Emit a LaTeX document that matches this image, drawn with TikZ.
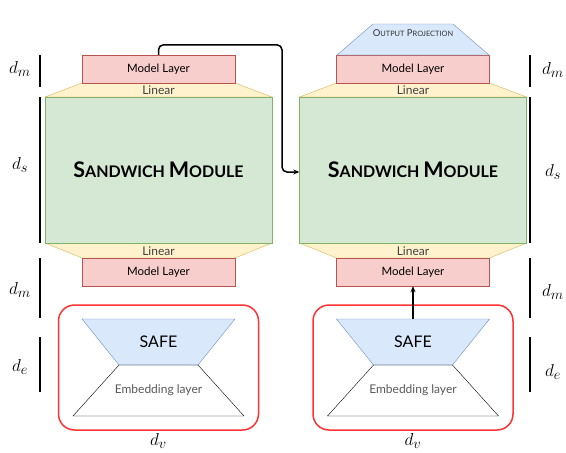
\documentclass[tikz,border=0pt]{standalone}
\usepackage{fontspec}
\setmainfont{Lato}
\usetikzlibrary{arrows.meta}
\definecolor{pinkF}{HTML}{F8CECC}\definecolor{pinkD}{HTML}{B85450}
\definecolor{yelF}{HTML}{FFF2CC}\definecolor{yelD}{HTML}{D6B656}
\definecolor{grnF}{HTML}{D5E8D4}\definecolor{grnD}{HTML}{82B366}
\definecolor{bluF}{HTML}{DAE8FC}\definecolor{bluD}{HTML}{6C8EBF}
\definecolor{redB}{HTML}{FF3333}
\newcommand{\sw}{{\bfseries\fontsize{21.5}{22}\selectfont S\fontsize{16}{16}\selectfont ANDWICH \fontsize{21.5}{22}\selectfont M\fontsize{16}{16}\selectfont ODULE}}
\begin{document}
\begin{tikzpicture}[x=1pt,y=-1pt,
  model/.style={draw=pinkD,fill=pinkF,minimum width=153pt,minimum height=28pt,inner sep=0pt,font=\fontsize{11.5}{13}\selectfont},
  sand/.style={draw=grnD,fill=grnF,minimum width=227pt,minimum height=146pt,inner sep=0pt},
  lin/.style={draw=yelD,fill=yelF},
  lintext/.style={font=\fontsize{12}{13}\selectfont,text=black!75,inner sep=0pt},
  blu/.style={draw=bluD,fill=bluF},
  bar/.style={line width=1.3pt},
  dim/.style={font=\fontsize{19}{21}\selectfont},
  flow/.style={line width=1.5pt,-{Stealth[length=6pt,width=5pt]},rounded corners=5pt},
  redbox/.style={draw=redB,line width=1.5pt,rounded corners=16pt,minimum width=200pt,minimum height=125pt}]
\useasboundingbox (0,0) rectangle (566,453);
\foreach \c/\n in {158.5/L,413/R}{
  % linear trapezoids
  \path[lin] (\c-76.5,83) -- (\c+76.5,83) -- (\c+113.5,97) -- (\c-113.5,97) -- cycle;
  \node[lintext] at (\c,90.5) {Linear};
  \path[lin] (\c-113.5,243) -- (\c+113.5,243) -- (\c+76.5,258) -- (\c-76.5,258) -- cycle;
  \node[lintext] at (\c,251.5) {Linear};
  \node[model] (mt\n) at (\c,69) {Model Layer};
  \node[model] (mb\n) at (\c,272) {Model Layer};
  \node[sand] (s\n) at (\c,170) {\sw};
  \node[redbox] (r\n) at (\c,367.5) {};
  \path[blu] (\c-76.5,319) -- (\c+76.5,319) -- (\c+39.5,365) -- (\c-39.5,365) -- cycle;
  \node[font=\fontsize{16}{17}\selectfont] (safe\n) at (\c,342) {SAFE};
  \coordinate (st\n) at (\c,319);
  \draw[black] (\c-39.5,365) -- (\c+39.5,365) -- (\c+85.5,416) -- (\c-85.5,416) -- cycle;
  \node[font=\fontsize{12}{13}\selectfont,text=black!65] at (\c,390) {Embedding layer};
  \node[dim] at (\c,441) {$d_v$};
}
\path[blu] (373,24) -- (453,24) -- (489,55) -- (337,55) -- cycle;
\node[font=\fontsize{9.5}{11}\selectfont,text=black!80] at (413,33) {O{\fontsize{7.4}{9}\selectfont UTPUT} P{\fontsize{7.4}{9}\selectfont ROJECTION}};
% dimension bars
\foreach \x in {40,530}{
  \draw[bar] (\x,55) -- (\x,87);
  \draw[bar] (\x,97) -- (\x,243);
  \draw[bar] (\x,258) -- (\x,318);
  \draw[bar] (\x,337) -- (\x,392);
}
\node[dim] at (20,69) {$d_m$};
\node[dim] at (20,165) {$d_s$};
\node[dim] at (20,290) {$d_m$};
\node[dim] at (20,367) {$d_e$};
\node[dim] at (553,70) {$d_m$};
\node[dim] at (553,172) {$d_s$};
\node[dim] at (553,292) {$d_m$};
\node[dim] at (553,372) {$d_e$};
% connectors
\draw[flow] (mtL.north) -- ++(0,-10) -| (282,172) -- (sR.west |- 0,172);
\draw[flow] (stR) -- (mbR.south);
\end{tikzpicture}
\end{document}
